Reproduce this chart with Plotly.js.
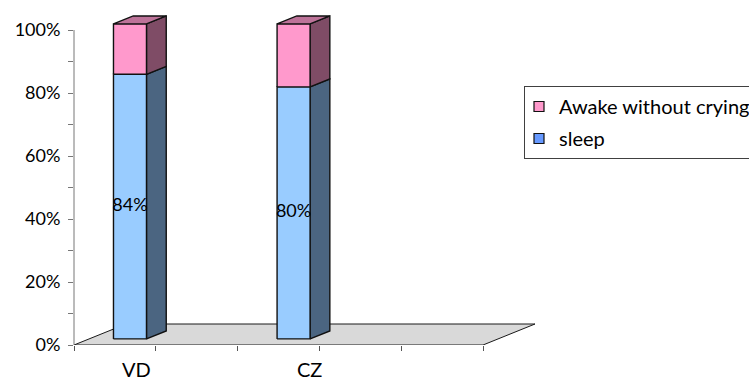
<!DOCTYPE html>
<html>
<head>
<meta charset="utf-8">
<script src="https://cdn.plot.ly/plotly-3.0.1.min.js"></script>
<style>html,body{margin:0;padding:0;background:#fff;}#chart{width:749px;height:380px;}</style>
</head>
<body>
<div id="chart"></div>
<script>
// ---- data ----
const categories = ["VD", "CZ"];
const sleep = [0.84, 0.80];
const awake = [0.16, 0.20];
const sleepLabels = ["84%", "80%"];
const seriesNames = ["Awake without crying", "sleep"];
const yTickVals = [0, 0.2, 0.4, 0.6, 0.8, 1.0];
const yTickText = ["0%", "20%", "40%", "60%", "80%", "100%"];

// ---- layout constants (pixel geometry of the pseudo-3D frame) ----
const W = 749, H = 380;
const L = 74, R = 209, T = 5, B = 35;
const plotW = W - L - R, plotH = H - T - B;
const pxPerX = 81.8, pxPerY = 315;
const xMax = plotW / pxPerX, yMax = plotH / pxPerY;
const nSlots = 5;
const slotOf = [0, 2];                 // slot position of each category
const labelX = [0.77, 2.885];          // category label positions
const depthX = 52 / pxPerX, depthY = 21 / pxPerY;   // floor depth vector
const frontFrac = 0.29, backFrac = 0.67;
const barW = 33 / pxPerX;
const font = "Lato, 'Open Sans', sans-serif";
const fs = 18;

const traces = [];
// floor
traces.push({
  x: [0, nSlots, nSlots + depthX, depthX, 0],
  y: [0, 0, depthY, depthY, 0],
  mode: "lines", fill: "toself", fillcolor: "#D9D9D9",
  line: {color: "#1a1a1a", width: 1}, hoverinfo: "skip", showlegend: false
});

const fx = frontFrac * depthX, fy = frontFrac * depthY;
const sx = (backFrac - frontFrac) * depthX, sy = (backFrac - frontFrac) * depthY;

function poly(xs, ys, color) {
  traces.push({
    x: xs.concat([xs[0]]), y: ys.concat([ys[0]]),
    mode: "lines", fill: "toself", fillcolor: color,
    line: {color: "#111", width: 1.4}, hoverinfo: "skip", showlegend: false
  });
}
function block(i, y0, y1, front, side, top) {
  const x0 = slotOf[i] + 0.5 - barW / 2 + fx, x1 = x0 + barW;
  const b = y0 + fy, t = y1 + fy;
  poly([x1, x1 + sx, x1 + sx, x1], [b, b + sy, t + sy, t], side);
  poly([x0, x1, x1, x0], [b, b, t, t], front);
  if (top) poly([x0, x1, x1 + sx, x0 + sx], [t, t, t + sy, t + sy], top);
}
for (let i = 0; i < categories.length; i++) {
  block(i, 0, sleep[i], "#99CCFF", "#4B6581", null);
  block(i, sleep[i], sleep[i] + awake[i], "#FF99CC", "#7F4C66", "#BD7399");
}
// value labels
traces.push({
  x: categories.map((c, i) => slotOf[i] + 0.5 + fx),
  y: sleep.map(v => fy + v / 2),
  mode: "text", text: sleepLabels,
  textfont: {family: font, size: fs, color: "#000"},
  hoverinfo: "skip", showlegend: false, cliponaxis: false
});
// legend entries
traces.push({x: [null], y: [null], mode: "markers", name: seriesNames[0], legendgroup: "a",
  marker: {symbol: "square", size: 10, color: "#FF99CC", line: {color: "#111", width: 1.2}}});
traces.push({x: [null], y: [null], mode: "markers", name: seriesNames[1], legendgroup: "b",
  marker: {symbol: "square", size: 10, color: "#6699FF", line: {color: "#111", width: 1.2}}});

const layout = {
  width: W, height: H,
  margin: {l: L, r: R, t: T, b: B, autoexpand: false},
  paper_bgcolor: "#fff", plot_bgcolor: "rgba(0,0,0,0)",
  font: {family: font, size: fs, color: "#000"},
  showlegend: true,
  legend: {
    x: (524 - L) / plotW, xanchor: "left",
    y: (H - B - 86) / plotH, yanchor: "top",
    bordercolor: "#404040", borderwidth: 1, bgcolor: "#fff",
    font: {family: font, size: 20, color: "#000"},
    traceorder: "grouped", tracegroupgap: 3, itemwidth: 30, indentation: -6
  },
  xaxis: {
    range: [0, xMax], showgrid: false, zeroline: false, showline: false,
    tickvals: [0, 1, 2, 3, 4, 5], ticks: "outside", ticklen: 5, tickcolor: "#555",
    showticklabels: false, fixedrange: true
  },
  yaxis: {
    range: [0, yMax], showgrid: false, zeroline: false, showline: false,
    tickvals: yTickVals, ticktext: yTickText, ticks: "outside", ticklen: 5,
    tickcolor: "#777", ticklabelstandoff: 4,
    minor: {tickvals: [0.1, 0.3, 0.5, 0.7, 0.9], ticks: "outside", ticklen: 5, tickcolor: "#777"},
    tickfont: {family: font, size: fs, color: "#000"}, fixedrange: true
  },
  shapes: [
    {type: "line", xref: "paper", yref: "y", x0: 0, x1: 0, y0: 0, y1: 1,
     line: {color: "#777", width: 1}}
  ],
  annotations: categories.map((c, i) => ({
    x: labelX[i], xref: "x", y: 0, yref: "y", yshift: -24,
    text: c, showarrow: false, font: {family: font, size: 20, color: "#000"},
    xanchor: "center", yanchor: "middle"
  }))
};

Plotly.newPlot("chart", traces, layout, {displayModeBar: false, staticPlot: true});
</script>
</body>
</html>
